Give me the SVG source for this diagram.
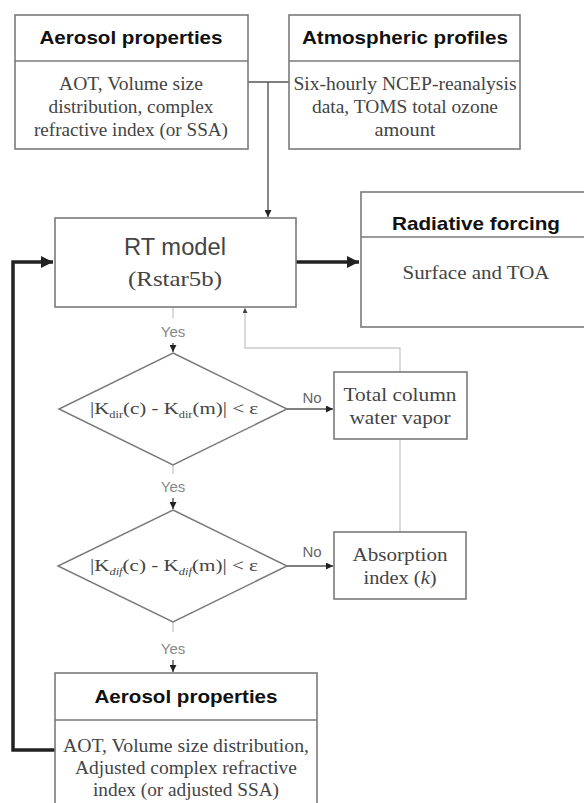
<svg xmlns="http://www.w3.org/2000/svg" width="584" height="803" viewBox="0 0 584 803">
<defs>
<style>
.box{fill:#fff;stroke:#7a7a7a;stroke-width:1.6}
.dia{fill:#fff;stroke:#7a7a7a;stroke-width:1.5}
.title{font-family:"Liberation Sans",Arial,sans-serif;font-weight:bold;font-size:19px;fill:#111;text-anchor:middle}
.body{font-family:"Liberation Serif","Times New Roman",serif;font-size:18px;fill:#444;text-anchor:middle}
.rt{font-family:"Liberation Sans",Arial,sans-serif;font-size:23px;fill:#444;text-anchor:middle}
.lbl{font-family:"Liberation Sans",Arial,sans-serif;font-size:15px;fill:#888;text-anchor:middle}
.no{fill:#666}
.thin{fill:none;stroke:#555;stroke-width:1.4}
.gray{fill:none;stroke:#ccc;stroke-width:1.4}
.thick{fill:none;stroke:#222;stroke-width:3.5}
</style>
<marker id="ah" viewBox="0 0 10 10" refX="10" refY="5" markerWidth="7" markerHeight="7" markerUnits="userSpaceOnUse" orient="auto"><path d="M0,0 L10,5 L0,10 z" fill="#222"/></marker>
<marker id="ahs" viewBox="0 0 10 10" refX="10" refY="5" markerWidth="5" markerHeight="5" markerUnits="userSpaceOnUse" orient="auto"><path d="M0,0 L10,5 L0,10 z" fill="#444"/></marker>
<marker id="ahb" viewBox="0 0 10 10" refX="10" refY="5" markerWidth="12" markerHeight="12" markerUnits="userSpaceOnUse" orient="auto"><path d="M0,0 L10,5 L0,10 z" fill="#222"/></marker>
</defs>
<rect width="584" height="803" fill="#fff"/>
<g id="connectors">
<path class="thin" d="M248,82 H289"/>
<path class="thin" d="M268,82 V217" marker-end="url(#ah)"/>
<path class="thick" d="M296,262 H359" marker-end="url(#ahb)"/>
<path class="thick" d="M55,750 H13 V262 H53" marker-end="url(#ahb)"/>
<path class="gray" d="M400,532 V348 H245 V308" marker-end="url(#ahs)"/>
<path class="gray" d="M173,307 V318"/>
<path class="thin" d="M173,343 V352" marker-end="url(#ah)"/>
<path class="gray" d="M173,465 V474"/>
<path class="thin" d="M173,498 V509" marker-end="url(#ah)"/>
<path class="gray" d="M173,622 V632"/>
<path class="thin" d="M173,660 V672" marker-end="url(#ah)"/>
<path class="thin" d="M287,409 H333" marker-end="url(#ah)"/>
<path class="thin" d="M287,566 H333" marker-end="url(#ah)"/>
<text class="lbl" x="173" y="337">Yes</text>
<text class="lbl" x="173" y="492">Yes</text>
<text class="lbl" x="173" y="654">Yes</text>
<text class="lbl no" x="312" y="403">No</text>
<text class="lbl no" x="312" y="557">No</text>
</g>
<g id="aerosol-in">
<rect class="box" x="15" y="15" width="233" height="134"/>
<line class="box" x1="15" y1="61" x2="248" y2="61"/>
<text class="title" x="131" y="44" textLength="183" lengthAdjust="spacingAndGlyphs">Aerosol properties</text>
<text class="body" x="131" y="90" textLength="144" lengthAdjust="spacingAndGlyphs">AOT, Volume size</text>
<text class="body" x="131" y="113" textLength="165" lengthAdjust="spacingAndGlyphs">distribution, complex</text>
<text class="body" x="131" y="136" textLength="194" lengthAdjust="spacingAndGlyphs">refractive index (or SSA)</text>
</g>
<g id="atmos">
<rect class="box" x="289" y="15" width="231" height="134"/>
<line class="box" x1="289" y1="61" x2="520" y2="61"/>
<text class="title" x="405" y="44" textLength="206" lengthAdjust="spacingAndGlyphs">Atmospheric profiles</text>
<text class="body" x="405" y="90" textLength="223" lengthAdjust="spacingAndGlyphs">Six-hourly NCEP-reanalysis</text>
<text class="body" x="405" y="113" textLength="186" lengthAdjust="spacingAndGlyphs">data, TOMS total ozone</text>
<text class="body" x="405" y="136" textLength="61" lengthAdjust="spacingAndGlyphs">amount</text>
</g>
<g id="rt-model">
<rect class="box" x="55" y="218" width="241" height="89"/>
<text class="rt" x="175" y="255" textLength="102" lengthAdjust="spacingAndGlyphs">RT model</text>
<text class="body" x="175" y="286" style="font-size:22px" textLength="94" lengthAdjust="spacingAndGlyphs">(Rstar5b)</text>
</g>
<g id="radiative">
<rect class="box" x="361" y="192" width="231" height="135"/>
<line class="box" x1="361" y1="237" x2="592" y2="237"/>
<text class="title" x="476" y="230" textLength="168" lengthAdjust="spacingAndGlyphs">Radiative forcing</text>
<text class="body" x="476" y="279" textLength="147" lengthAdjust="spacingAndGlyphs">Surface and TOA</text>
</g>
<g id="check-dir">
<polygon class="dia" points="173,353 287,409 173,465 59,409"/>
<text class="body" x="174" y="414" style="font-size:17px" textLength="168" lengthAdjust="spacingAndGlyphs">|K<tspan font-size="10" dy="4">dir</tspan><tspan dy="-4">(c) - K</tspan><tspan font-size="10" dy="4">dir</tspan><tspan dy="-4">(m)| &lt; ε</tspan></text>
</g>
<g id="water-vapor">
<rect class="box" x="334" y="372" width="133" height="67"/>
<text class="body" x="400" y="401" textLength="113" lengthAdjust="spacingAndGlyphs">Total column</text>
<text class="body" x="400" y="424" textLength="101" lengthAdjust="spacingAndGlyphs">water vapor</text>
</g>
<g id="check-dif">
<polygon class="dia" points="173,510 287,566 173,622 58,566"/>
<text class="body" x="174" y="571" style="font-size:17px" textLength="168" lengthAdjust="spacingAndGlyphs">|K<tspan font-size="10" font-style="italic" dy="4">dif</tspan><tspan dy="-4">(c) - K</tspan><tspan font-size="10" font-style="italic" dy="4">dif</tspan><tspan dy="-4">(m)| &lt; ε</tspan></text>
</g>
<g id="absorption">
<rect class="box" x="334" y="532" width="132" height="67"/>
<text class="body" x="400" y="561" textLength="95" lengthAdjust="spacingAndGlyphs">Absorption</text>
<text class="body" x="400" y="584" textLength="73" lengthAdjust="spacingAndGlyphs">index (<tspan font-style="italic">k</tspan>)</text>
</g>
<g id="aerosol-out">
<rect class="box" x="55" y="673" width="262" height="140"/>
<line class="box" x1="55" y1="720" x2="317" y2="720"/>
<text class="title" x="186" y="703" textLength="183" lengthAdjust="spacingAndGlyphs">Aerosol properties</text>
<text class="body" x="186" y="752" textLength="246" lengthAdjust="spacingAndGlyphs">AOT, Volume size distribution,</text>
<text class="body" x="186" y="774" textLength="222" lengthAdjust="spacingAndGlyphs">Adjusted complex refractive</text>
<text class="body" x="186" y="796" textLength="186" lengthAdjust="spacingAndGlyphs">index (or adjusted SSA)</text>
</g>
</svg>
